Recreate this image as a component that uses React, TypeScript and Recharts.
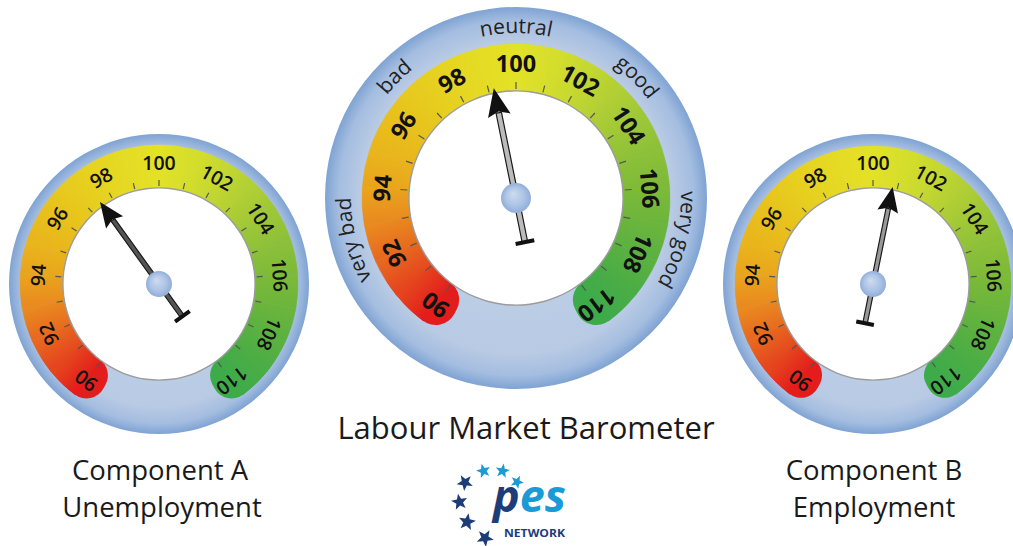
import React from 'react';
import { PieChart, Pie, Cell } from 'recharts';

// ---------- data ----------
const scaleValues = [90, 91, 92, 93, 94, 95, 96, 97, 98, 99, 100, 101, 102, 103, 104, 105, 106, 107, 108, 109, 110];
const labelValues = [90, 92, 94, 96, 98, 100, 102, 104, 106, 108, 110];
const bandColors = [
  '#e31d1c', '#e5461e', '#e7691f', '#e98a1f', '#e9a41d', '#e9b51c', '#e8c01c', '#e7cb1e', '#e6d421', '#e5dc24',
  '#e3e227', '#d6de2b', '#c6d830', '#b2cf34', '#9ec737', '#8cc039', '#7dba38', '#6cb53c', '#5bb140', '#4bad45', '#3eab4a',
];
const gaugeTitles = ['Component A', 'Labour Market Barometer', 'Component B'];
const gaugeSubtitles = ['Unemployment', '', 'Employment'];
const needleValues = [97.5, 99.2, 100.8];
const zoneNames = ['very bad', 'bad', 'neutral', 'good', 'very good'];
const zoneValues = [92.7, 96.85, 100, 103.15, 107.3];

// ---------- scale ----------
const VMIN = 90;
const VMAX = 110;
const START = 233;
const END = -53;
const angleOf = (v: number) => START + ((v - VMIN) * (END - START)) / (VMAX - VMIN);
const RAD = Math.PI / 180;
const pt = (cx: number, cy: number, r: number, a: number) => [cx + r * Math.cos(a * RAD), cy - r * Math.sin(a * RAD)];

// ---------- layout / style ----------
const layouts = [
  { cx: 159, cy: 284, R: 150, bandOut: 139, bandIn: 96, tickIn: 98, tickOut: 104, labelR: 121, fs: 19.5, fw: 600,
    hubR: 13, tipR: 101, tailR: 40, headLen: 25, headW: 21, shaftW: 4.5, barW: 18, shaftFill: '#555' },
  { cx: 516, cy: 198, R: 191, bandOut: 154, bandIn: 107, tickIn: 109, tickOut: 116, labelR: 134, fs: 23.5, fw: 700,
    hubR: 15, tipR: 112, tailR: 45, headLen: 28, headW: 23, shaftW: 5.5, barW: 19, shaftFill: '#bbb' },
  { cx: 873, cy: 284, R: 150, bandOut: 138, bandIn: 96, tickIn: 98, tickOut: 104, labelR: 121, fs: 19.5, fw: 600,
    hubR: 13, tipR: 99, tailR: 40, headLen: 25, headW: 21, shaftW: 4.5, barW: 18, shaftFill: '#999' },
];
const W = 1013;
const H = 546;
const FONT = "'Open Sans', 'Noto Sans', sans-serif";

const bandSegments = scaleValues.slice(0, -1).map((v) => ({ from: v, size: 1 }));
const tickData = scaleValues.map((v) => ({ value: v, size: 1 }));
const one = [{ size: 1 }];

const renderTick = (g: any) => (p: any) => {
  const v = scaleValues[p.index];
  const a = p.midAngle;
  const [x1, y1] = pt(p.cx, p.cy, g.tickIn, a);
  const [x2, y2] = pt(p.cx, p.cy, g.tickOut, a);
  const [lx, ly] = pt(p.cx, p.cy, g.labelR, a);
  const show = labelValues.includes(v);
  return (
    <g key={`t-${p.index}`}>
      <line x1={x1} y1={y1} x2={x2} y2={y2} stroke="#555" strokeWidth={1.2} />
      {show && (
        <text x={lx} y={ly} dy="0.36em" textAnchor="middle" fontFamily={FONT} fontSize={g.fs} fontWeight={g.fw}
          fill="#111" transform={`rotate(${90 - a} ${lx} ${ly})`}>{v}</text>
      )}
    </g>
  );
};

const renderNeedle = (g: any) => (p: any) => {
  if (p.index !== 0) return null;
  const a = p.endAngle;
  const cx = p.cx;
  const cy = p.cy;
  const shaftTop = cy - (g.tipR - g.headLen + 3);
  const hb = cy - g.tipR + g.headLen;
  return (
    <g key="needle">
      <g transform={`rotate(${90 - a} ${cx} ${cy})`}>
        <rect x={cx - g.shaftW / 2} y={shaftTop} width={g.shaftW} height={cy + g.tailR - shaftTop}
          fill={g.shaftFill} stroke="#1a1a1a" strokeWidth={1.2} />
        <polygon points={`${cx},${cy - g.tipR} ${cx - g.headW / 2},${hb} ${cx},${hb - g.headLen * 0.15} ${cx + g.headW / 2},${hb}`} fill="#111" />
        <rect x={cx - g.barW / 2} y={cy + g.tailR - 2} width={g.barW} height={4} fill="#111" />
      </g>
      <circle cx={cx} cy={cy} r={g.hubR} fill="url(#hub)" />
    </g>
  );
};

const Gauge = (g: any, gi: number) => {
  const thick = g.bandOut - g.bandIn;
  const cap = thick * 0.45;
  return [
    <Pie key={`ring${gi}`} data={one} dataKey="size" cx={g.cx} cy={g.cy} innerRadius={0} outerRadius={g.R}
      startAngle={0} endAngle={360} stroke="none" fill={`url(#ring)`} isAnimationActive={false} />,
    <Pie key={`capR${gi}`} data={one} dataKey="size" cx={g.cx} cy={g.cy} innerRadius={g.bandIn} outerRadius={g.bandOut}
      startAngle={angleOf(90) + 9} endAngle={angleOf(92)} cornerRadius={cap} stroke="none" fill={bandColors[0]} isAnimationActive={false} />,
    <Pie key={`capG${gi}`} data={one} dataKey="size" cx={g.cx} cy={g.cy} innerRadius={g.bandIn} outerRadius={g.bandOut}
      startAngle={angleOf(108)} endAngle={angleOf(110) - 9} cornerRadius={cap} stroke="none" fill={bandColors[20]} isAnimationActive={false} />,
    <Pie key={`band${gi}`} data={bandSegments} dataKey="size" cx={g.cx} cy={g.cy} innerRadius={g.bandIn} outerRadius={g.bandOut}
      startAngle={angleOf(90)} endAngle={angleOf(110)} stroke="none" isAnimationActive={false}>
      {bandSegments.map((s, i) => (
        <Cell key={i} fill={`url(#bg-${gi}-${i})`} stroke={`url(#bg-${gi}-${i})`} strokeWidth={0.6} />
      ))}
    </Pie>,
    <Pie key={`white${gi}`} data={one} dataKey="size" cx={g.cx} cy={g.cy} innerRadius={0} outerRadius={g.bandIn}
      startAngle={0} endAngle={360} stroke="none" fill="#ffffff" isAnimationActive={false} />,
    <Pie key={`edge${gi}`} data={one} dataKey="size" cx={g.cx} cy={g.cy} innerRadius={g.bandIn - 0.6} outerRadius={g.bandIn + 0.8}
      startAngle={0} endAngle={360} stroke="none" fill="#9c9c9c" isAnimationActive={false} />,
    <Pie key={`ticks${gi}`} data={tickData} dataKey="size" cx={g.cx} cy={g.cy} innerRadius={g.tickIn} outerRadius={g.tickOut}
      startAngle={angleOf(89.5)} endAngle={angleOf(110.5)} stroke="none" fill="none" isAnimationActive={false}
      label={renderTick(g)} labelLine={false} />,
    <Pie key={`needle${gi}`} data={[{ size: needleValues[gi] - VMIN }, { size: VMAX - needleValues[gi] }]} dataKey="size"
      cx={g.cx} cy={g.cy} innerRadius={0} outerRadius={2} startAngle={angleOf(90)} endAngle={angleOf(110)}
      stroke="none" fill="none" isAnimationActive={false} label={renderNeedle(g)} labelLine={false} />,
  ];
};

const starPath = (x: number, y: number, r: number, rot: number) => {
  const pts: string[] = [];
  for (let i = 0; i < 10; i++) {
    const rr = i % 2 === 0 ? r : r * 0.42;
    const a = (rot - 90 + i * 36) * RAD;
    pts.push(`${x + rr * Math.cos(a)},${y + rr * Math.sin(a)}`);
  }
  return pts.join(' ');
};
const LIGHT = '#1a9ad6';
const DARK = '#1d3c78';
const logoStars = [
  { x: 483.5, y: 471, r: 7.5, c: LIGHT, rot: -15 },
  { x: 502.5, y: 471, r: 7.5, c: LIGHT, rot: 10 },
  { x: 517, y: 482, r: 7, c: LIGHT, rot: 25 },
  { x: 465, y: 482.5, r: 8.5, c: DARK, rot: -30 },
  { x: 459.5, y: 502, r: 8.5, c: DARK, rot: -10 },
  { x: 467, y: 522, r: 9, c: DARK, rot: 10 },
  { x: 485, y: 538, r: 9, c: DARK, rot: 30 },
];

export default function App() {
  const mid = layouts[1];
  const zoneR = 165;
  return (
    <div style={{ position: 'fixed', left: 0, top: 0, width: W, height: H, background: '#fff' }}>
      <svg width={W} height={H} style={{ position: 'absolute', left: 0, top: 0 }}>
        <defs>
          <radialGradient id="ring" cx="50%" cy="50%" r="50%">
            <stop offset="0%" stopColor="#c4d3e9" />
            <stop offset="82%" stopColor="#b8cae4" />
            <stop offset="93%" stopColor="#a4bde0" />
            <stop offset="100%" stopColor="#7fa3d3" />
          </radialGradient>
          <radialGradient id="hub" cx="50%" cy="50%" r="50%" fx="40%" fy="35%">
            <stop offset="0%" stopColor="#cfdcef" />
            <stop offset="60%" stopColor="#aec5e5" />
            <stop offset="100%" stopColor="#90aedb" />
          </radialGradient>
          {layouts.map((g, gi) =>
            bandSegments.map((s, i) => {
              const rm = (g.bandIn + g.bandOut) / 2;
              const [x1, y1] = pt(g.cx, g.cy, rm, angleOf(s.from));
              const [x2, y2] = pt(g.cx, g.cy, rm, angleOf(s.from + 1));
              return (
                <linearGradient key={`${gi}-${i}`} id={`bg-${gi}-${i}`} gradientUnits="userSpaceOnUse" x1={x1} y1={y1} x2={x2} y2={y2}>
                  <stop offset="0%" stopColor={bandColors[i]} />
                  <stop offset="100%" stopColor={bandColors[i + 1]} />
                </linearGradient>
              );
            })
          )}
          {zoneNames.map((z, i) => {
            const th = 90 - angleOf(zoneValues[i]);
            const p1 = [mid.cx + zoneR * Math.sin((th - 80) * RAD), mid.cy - zoneR * Math.cos((th - 80) * RAD)];
            const p2 = [mid.cx + zoneR * Math.sin((th + 80) * RAD), mid.cy - zoneR * Math.cos((th + 80) * RAD)];
            return <path key={z} id={`zone-${i}`} d={`M ${p1[0]} ${p1[1]} A ${zoneR} ${zoneR} 0 0 1 ${p2[0]} ${p2[1]}`} fill="none" />;
          })}
        </defs>
      </svg>
      <div style={{ position: 'absolute', left: 0, top: 0 }}>
        <PieChart width={W} height={H} margin={{ top: 0, right: 0, bottom: 0, left: 0 }}>
          {layouts.map((g, gi) => Gauge(g, gi))}
        </PieChart>
      </div>
      <svg width={W} height={H} style={{ position: 'absolute', left: 0, top: 0, pointerEvents: 'none' }}>
        {zoneNames.map((z, i) => (
          <text key={z} fontFamily={FONT} fontSize={21} fill="#222">
            <textPath href={`#zone-${i}`} startOffset="50%" textAnchor="middle">{z}</textPath>
          </text>
        ))}
        <text x={526} y={439} textAnchor="middle" fontFamily={FONT} fontSize={31} fill="#1a1a1a">{gaugeTitles[1]}</text>
        <text x={160} y={480} textAnchor="middle" fontFamily={FONT} fontSize={27.5} fill="#1a1a1a">{gaugeTitles[0]}</text>
        <text x={162} y={517} textAnchor="middle" fontFamily={FONT} fontSize={27.5} fill="#1a1a1a">{gaugeSubtitles[0]}</text>
        <text x={874} y={480} textAnchor="middle" fontFamily={FONT} fontSize={27.5} fill="#1a1a1a">{gaugeTitles[2]}</text>
        <text x={874} y={517} textAnchor="middle" fontFamily={FONT} fontSize={27.5} fill="#1a1a1a">{gaugeSubtitles[2]}</text>
        {logoStars.map((s, i) => (
          <polygon key={i} points={starPath(s.x, s.y, s.r, s.rot)} fill={s.c} />
        ))}
        <text x={493} y={512} fontFamily={FONT} fontSize={45} fontWeight={700} fontStyle="italic" textLength={73} lengthAdjust="spacingAndGlyphs">
          <tspan fill={DARK}>p</tspan><tspan fill={LIGHT}>es</tspan>
        </text>
        <text x={504} y={537} fontFamily={FONT} fontSize={11} fontWeight={700} fill={DARK} textLength={61} lengthAdjust="spacingAndGlyphs">NETWORK</text>
      </svg>
    </div>
  );
}
